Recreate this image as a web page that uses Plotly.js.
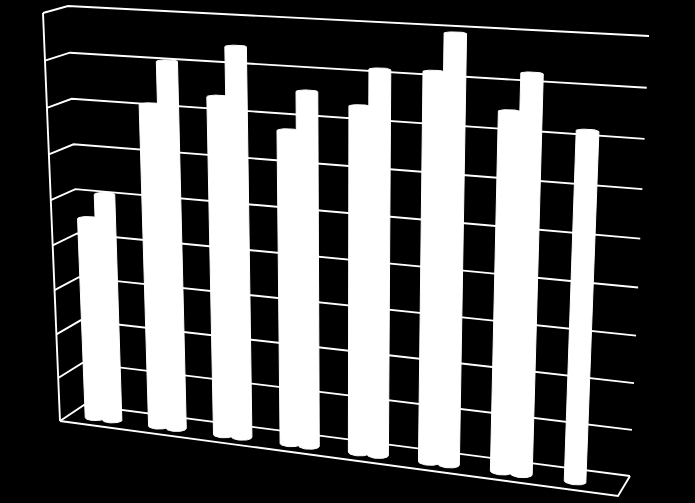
<!DOCTYPE html>
<html>
<head>
<meta charset="utf-8">
<script src="https://cdn.plot.ly/plotly-3.0.1.min.js"></script>
<style>html,body{margin:0;padding:0;background:#000;overflow:hidden}#chart{width:695px;height:503px}</style>
</head>
<body>
<div id="chart"></div>
<script>
// Data (value axis has 9 unlabelled intervals)
var categories = [1, 2, 3, 4, 5, 6, 7, 8];
var seriesA = [4.54, 7.13, 7.39, 6.79, 7.39, 8.18, 7.49, 7.21];
var seriesB = [5.11, 8.06, 8.45, 7.62, 8.16, 8.96, 8.26, null];
var gridValues = [0, 1, 2, 3, 4, 5, 6, 7, 8, 9];

// The 3D box as it is projected on the page: corners [bottom-left, bottom-right, top-right, top-left]
var backWall  = [[84, 405], [630, 476], [649, 36], [68, 6]];
var frontWall = [[60, 421], [618, 496], [636, 45], [43, 13]];
var valueMax = 9;
var catStart = 0.05, catStep = 0.1245, seriesGap = 0.034, radiusU = 0.018, radiusZ = 0.17, barDepth = 0.58;

function project(u, value, z) {
  // z = 0 back wall, z = 1 front edge
  var q = backWall.map(function (p, i) {
    return [p[0] + (frontWall[i][0] - p[0]) * z, p[1] + (frontWall[i][1] - p[1]) * z];
  });
  var v = value / valueMax;
  var x0 = q[0][0], y0 = q[0][1], x1 = q[1][0], y1 = q[1][1], x2 = q[2][0], y2 = q[2][1], x3 = q[3][0], y3 = q[3][1];
  var dx1 = x1 - x2, dx2 = x3 - x2, sx = x0 - x1 + x2 - x3;
  var dy1 = y1 - y2, dy2 = y3 - y2, sy = y0 - y1 + y2 - y3;
  var den = dx1 * dy2 - dx2 * dy1;
  var g = (sx * dy2 - dx2 * sy) / den, h = (dx1 * sy - sx * dy1) / den;
  var a = x1 - x0 + g * x1, b = x3 - x0 + h * x3, d = y1 - y0 + g * y1, e = y3 - y0 + h * y3;
  var w = g * u + h * v + 1;
  return [(a * u + b * v + x0) / w, (d * u + e * v + y0) / w];
}

function hull(pts) {
  pts = pts.slice().sort(function (p, q) { return p[0] - q[0] || p[1] - q[1]; });
  function cross(o, a, b) { return (a[0] - o[0]) * (b[1] - o[1]) - (a[1] - o[1]) * (b[0] - o[0]); }
  var lo = [], up = [];
  pts.forEach(function (p) {
    while (lo.length > 1 && cross(lo[lo.length - 2], lo[lo.length - 1], p) <= 0) lo.pop();
    lo.push(p);
  });
  pts.slice().reverse().forEach(function (p) {
    while (up.length > 1 && cross(up[up.length - 2], up[up.length - 1], p) <= 0) up.pop();
    up.push(p);
  });
  return lo.slice(0, -1).concat(up.slice(0, -1));
}

function lineTrace(points) {
  return {
    type: 'scatter', mode: 'lines', hoverinfo: 'skip', showlegend: false,
    x: points.map(function (p) { return p[0]; }),
    y: points.map(function (p) { return p[1]; }),
    line: { color: '#fff', width: 1.9 }
  };
}

function cylinder(catIndex, seriesIndex, value, name) {
  var u = catStart + catStep * catIndex + seriesGap * seriesIndex;
  var pts = [];
  for (var k = 0; k < 48; k++) {
    var t = k / 48 * 2 * Math.PI;
    var cu = u + radiusU * Math.cos(t), cz = barDepth + radiusZ * Math.sin(t);
    pts.push(project(cu, 0, cz));
    pts.push(project(cu, value, cz));
  }
  var h = hull(pts);
  h.push(h[0]);
  return {
    type: 'scatter', mode: 'lines', fill: 'toself', fillcolor: '#fff', name: name,
    hoverinfo: 'skip', showlegend: false,
    x: h.map(function (p) { return p[0]; }),
    y: h.map(function (p) { return p[1]; }),
    line: { color: '#fff', width: 1 }
  };
}

var traces = [];
gridValues.forEach(function (g) {
  traces.push(lineTrace([project(0, g, 1), project(0, g, 0), project(1, g, 0)]));
});
traces.push(lineTrace([project(0, 0, 1), project(0, valueMax, 1)]));
traces.push(lineTrace([project(0, 0, 1), project(1, 0, 1), project(1, 0, 0)]));

categories.forEach(function (c, i) {
  if (seriesB[i] !== null) traces.push(cylinder(i, 1, seriesB[i], 'Series B ' + c));
  if (seriesA[i] !== null) traces.push(cylinder(i, 0, seriesA[i], 'Series A ' + c));
});

var hiddenAxis = { visible: false, showgrid: false, zeroline: false, fixedrange: true };
var layout = {
  width: 695, height: 503,
  margin: { l: 0, r: 0, t: 0, b: 0 },
  paper_bgcolor: '#000', plot_bgcolor: '#000',
  showlegend: false, hovermode: false,
  xaxis: Object.assign({ range: [0, 695] }, hiddenAxis),
  yaxis: Object.assign({ range: [503, 0] }, hiddenAxis)
};
Plotly.newPlot('chart', traces, layout, { displayModeBar: false, staticPlot: true });
</script>
</body>
</html>
